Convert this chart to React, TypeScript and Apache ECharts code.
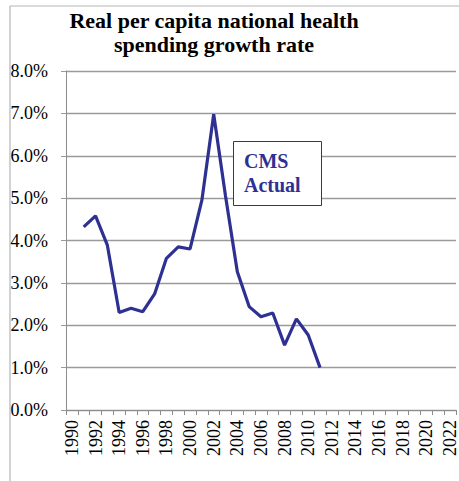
import React, { useEffect, useRef } from "react";
import * as echarts from "echarts";

// Years shown on the category axis
const years: string[] = [];
for (let y = 1990; y <= 2022; y++) years.push(String(y));

// Observed growth rate (%), 1991-2011
const actualYears = [
  1991, 1992, 1993, 1994, 1995, 1996, 1997, 1998, 1999, 2000, 2001,
  2002, 2003, 2004, 2005, 2006, 2007, 2008, 2009, 2010, 2011,
];
const actualValues = [
  4.32, 4.58, 3.89, 2.3, 2.4, 2.32, 2.74, 3.58, 3.85, 3.8, 4.95,
  6.98, 5.05, 3.26, 2.44, 2.2, 2.29, 1.53, 2.15, 1.77, 1.0,
];

const titleLines = ["Real per capita national health", "spending growth rate"];
const boxLines = ["CMS", "Actual"];

const NAVY = "#2E3192";
const SERIF = "Liberation Serif";

export default function App() {
  const ref = useRef<HTMLDivElement>(null);

  useEffect(() => {
    if (!ref.current) return;
    const chart = echarts.init(ref.current, null, { renderer: "svg" });

    const seriesData = years.map((y) => {
      const i = actualYears.indexOf(Number(y));
      return i >= 0 ? actualValues[i] : null;
    });

    const labelStyle = {
      color: "#000",
      fontFamily: SERIF,
      fontSize: 18,
      fontWeight: "normal" as const,
    };

    chart.setOption({
      animation: false,
      backgroundColor: "#ffffff",
      textStyle: { fontFamily: SERIF, fontSize: 18, color: "#000" },
      grid: { left: 66, top: 71, right: 2, bottom: 71, containLabel: false },
      xAxis: {
        type: "category",
        data: years,
        boundaryGap: true,
        axisLine: { show: true, lineStyle: { color: "#8c8c8c", width: 1 } },
        axisTick: {
          show: true,
          interval: 0,
          alignWithLabel: false,
          length: 5,
          lineStyle: { color: "#8c8c8c" },
        },
        axisLabel: {
          interval: 1,
          rotate: 90,
          margin: 10,
          ...labelStyle,
        },
        splitLine: { show: false },
      },
      yAxis: {
        type: "value",
        min: 0,
        max: 8,
        interval: 1,
        axisLine: { show: true, lineStyle: { color: "#8c8c8c", width: 1 } },
        axisTick: { show: true, length: 5, lineStyle: { color: "#9a9a9a" } },
        axisLabel: {
          formatter: (v: number) => v.toFixed(1) + "%",
          margin: 18,
          ...labelStyle,
        },
        splitLine: { show: true, lineStyle: { color: "#9a9a9a", width: 1.3 } },
      },
      series: [
        {
          type: "line",
          data: seriesData,
          showSymbol: false,
          connectNulls: false,
          lineStyle: { color: NAVY, width: 3.2 },
          itemStyle: { color: NAVY },
        },
      ],
      graphic: [
        // chart frame edges
        {
          type: "line",
          shape: { x1: 10, y1: 6, x2: 459, y2: 6 },
          style: { stroke: "#b5b5b5", lineWidth: 1.2 },
        },
        {
          type: "line",
          shape: { x1: 10, y1: 6, x2: 10, y2: 481 },
          style: { stroke: "#b5b5b5", lineWidth: 1.2 },
        },
        {
          type: "text",
          x: 214,
          y: 31,
          style: {
            text: titleLines[0],
            font: `bold 22px ${SERIF}`,
            fill: "#000",
            textAlign: "center",
            textVerticalAlign: "bottom",
          },
        },
        {
          type: "text",
          x: 214,
          y: 55,
          style: {
            text: titleLines[1],
            font: `bold 22px ${SERIF}`,
            fill: "#000",
            textAlign: "center",
            textVerticalAlign: "bottom",
          },
        },
        {
          type: "rect",
          shape: { x: 233.5, y: 141.5, width: 88, height: 64 },
          style: { fill: "#ffffff", stroke: NAVY, lineWidth: 1 },
          z: 10,
        },
        {
          type: "text",
          x: 244,
          y: 171,
          z: 11,
          style: {
            text: boxLines[0],
            font: `bold 20px ${SERIF}`,
            fill: NAVY,
            textAlign: "left",
            textVerticalAlign: "bottom",
          },
        },
        {
          type: "text",
          x: 244,
          y: 195,
          z: 11,
          style: {
            text: boxLines[1],
            font: `bold 20px ${SERIF}`,
            fill: NAVY,
            textAlign: "left",
            textVerticalAlign: "bottom",
          },
        },
      ],
    });

    return () => chart.dispose();
  }, []);

  return (
    <div
      ref={ref}
      style={{ position: "fixed", left: 0, top: 0, width: 459, height: 481, background: "#fff" }}
    />
  );
}
